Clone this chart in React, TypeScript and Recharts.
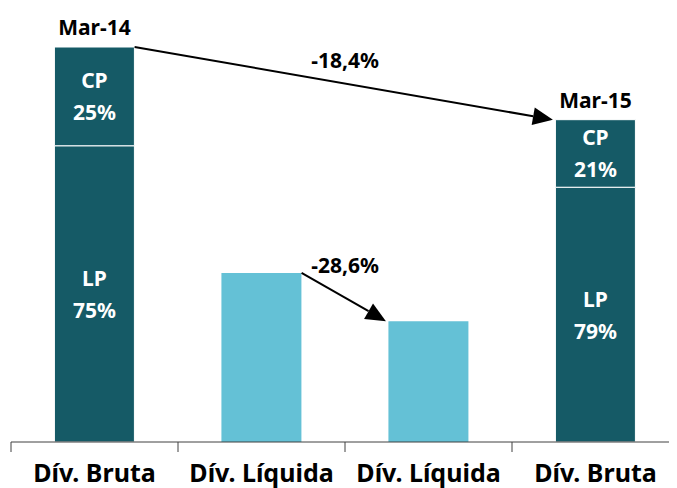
import React from 'react';
import {
  BarChart,
  Bar,
  XAxis,
  YAxis,
  LabelList,
  ReferenceLine,
  ReferenceDot,
} from 'recharts';

// Debt composition, Mar-14 vs Mar-15 (gross debt split short/long term, plus net debt)
const categories = ['Dív. Bruta', 'Dív. Líquida', 'Dív. Líquida', 'Dív. Bruta'];
const periods = ['Mar-14', '', '', 'Mar-15'];
const longTerm = [75, null, null, 64.5];
const shortTerm = [25, null, null, 17.1];
const netDebt = [null, 42.8, 30.6, null];

// variation arrows: from bar -> to bar, with label height in data units
const changes = [
  { from: 0, to: 3, label: '-18,4%', labelY: 96.7 },
  { from: 1, to: 2, label: '-28,6%', labelY: 44.8 },
];

const DARK = '#155a66';
const LIGHT = '#64c1d6';
const FONT = "'Noto Sans', 'Open Sans', sans-serif";
const BAR_HALF = 0.24; // half bar width, in category units

const total = (i: number) =>
  (longTerm[i] ?? 0) + (shortTerm[i] ?? 0) + (netDebt[i] ?? 0);

const share = (part: (number | null)[], i: number) =>
  part[i] == null ? null : `${Math.round(((part[i] as number) / total(i)) * 100)}%`;

const rows = categories.map((c, i) => ({
  key: `c${i}`,
  pos: i + 0.5,
  name: c,
  period: periods[i],
  lp: longTerm[i],
  cp: shortTerm[i],
  net: netDebt[i],
  lpPct: share(longTerm, i),
  cpPct: share(shortTerm, i),
}));

const AxisTick = (props: any) => {
  const { x, y, payload } = props;
  const v = payload.value;
  if (Number.isInteger(v)) {
    return <line x1={x} y1={y} x2={x} y2={y + 10} stroke="#404040" strokeWidth={1} />;
  }
  return (
    <text x={x} y={y + 40} textAnchor="middle" fontFamily={FONT} fontWeight={700} fontSize={25} fill="#000">
      {categories[Math.floor(v)]}
    </text>
  );
};

const twoLine = (name: string) => (props: any) => {
  const { x, y, width, height, value } = props;
  if (value == null) return null;
  const cx = x + width / 2;
  const cy = y + height / 2;
  return (
    <g fontFamily={FONT} fontWeight={700} fontSize={21} fill="#fff" textAnchor="middle">
      <text x={cx} y={cy - 8}>{name}</text>
      <text x={cx} y={cy + 24}>{value}</text>
    </g>
  );
};

const PeriodLabel = (props: any) => {
  const { x, y, width, value } = props;
  if (!value) return null;
  return (
    <text x={x + width / 2} y={y - 12} textAnchor="middle" fontFamily={FONT} fontWeight={700} fontSize={21} fill="#000">
      {value}
    </text>
  );
};

const Arrow = (props: any) => {
  const { x1, y1, x2, y2 } = props;
  const a = Math.atan2(y2 - y1, x2 - x1);
  const len = 20;
  const half = 9;
  const bx = x2 - len * Math.cos(a);
  const by = y2 - len * Math.sin(a);
  const px = -Math.sin(a) * half;
  const py = Math.cos(a) * half;
  return (
    <g>
      <line x1={x1} y1={y1} x2={bx} y2={by} stroke="#000" strokeWidth={2} />
      <polygon points={`${x2},${y2} ${bx + px},${by + py} ${bx - px},${by - py}`} fill="#000" />
    </g>
  );
};

const ChangeLabel = (text: string) => (props: any) => (
  <text x={props.cx} y={props.cy} textAnchor="middle" dominantBaseline="central" fontFamily={FONT} fontWeight={700} fontSize={21} fill="#000">
    {text}
  </text>
);

const App: React.FC = () => {
  return (
    <div style={{ width: 669, height: 480, overflow: 'hidden' }}>
      <BarChart
        width={680}
        height={480}
        data={rows}
        margin={{ top: 39, right: 9, left: 3, bottom: 0 }}
        barCategoryGap="26%"
      >
        <XAxis
          xAxisId="num"
          dataKey="pos"
          type="number"
          domain={[0, 4]}
          allowDataOverflow
          ticks={[0, 0.5, 1, 1.5, 2, 2.5, 3, 3.5, 4]}
          interval={0}
          tickLine={false}
          tickSize={0}
          tickMargin={0}
          height={46}
          axisLine={{ stroke: '#404040', strokeWidth: 1 }}
          tick={<AxisTick />}
        />
        <XAxis xAxisId="cat" dataKey="key" hide height={0} />
        <YAxis hide domain={[0, 100]} />
        <Bar xAxisId="cat" dataKey="lp" stackId="a" fill={DARK} stroke="#fff" strokeWidth={1} isAnimationActive={false}>
          <LabelList dataKey="lpPct" content={twoLine('LP')} />
        </Bar>
        <Bar xAxisId="cat" dataKey="cp" stackId="a" fill={DARK} stroke="#fff" strokeWidth={1} isAnimationActive={false}>
          <LabelList dataKey="cpPct" content={twoLine('CP')} />
          <LabelList dataKey="period" content={<PeriodLabel />} />
        </Bar>
        <Bar xAxisId="cat" dataKey="net" stackId="a" fill={LIGHT} isAnimationActive={false} />
        {changes.map((c) => (
          <ReferenceLine
            key={`l${c.from}`}
            xAxisId="num"
            ifOverflow="visible"
            segment={[
              { x: c.from + 0.5 + BAR_HALF, y: total(c.from) },
              { x: c.to + 0.5 - BAR_HALF - 0.015, y: total(c.to) },
            ]}
            shape={<Arrow />}
          />
        ))}
        {changes.map((c) => (
          <ReferenceDot
            key={`d${c.from}`}
            xAxisId="num"
            x={(c.from + c.to + 1) / 2}
            y={c.labelY}
            r={0}
            ifOverflow="visible"
            shape={ChangeLabel(c.label)}
          />
        ))}
      </BarChart>
    </div>
  );
};

export default App;
